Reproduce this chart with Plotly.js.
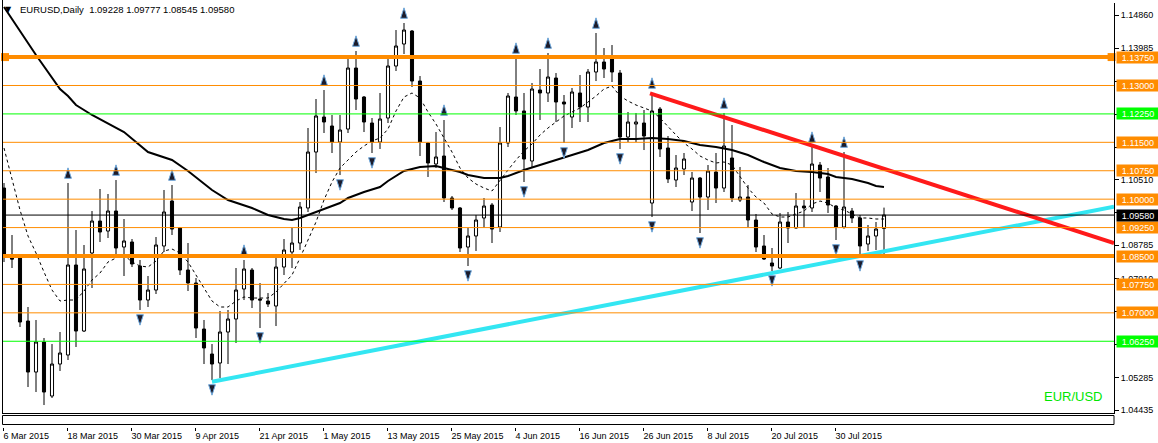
<!DOCTYPE html>
<html><head><meta charset="utf-8">
<script src="https://cdn.plot.ly/plotly-3.0.1.min.js"></script>
<style>html,body{margin:0;padding:0;background:#fff;}#chart{width:1158px;height:443px;}</style>
</head><body><div id="chart"></div>
<script>
// ---- date axis ----
const tickIdx = [0,8,16,24,32,40,48,56,64,72,80,88,96,104];
const tickLabels = ["6 Mar 2015","18 Mar 2015","30 Mar 2015","9 Apr 2015","21 Apr 2015","1 May 2015","13 May 2015","25 May 2015","4 Jun 2015","16 Jun 2015","26 Jun 2015","8 Jul 2015","20 Jul 2015","30 Jul 2015"];

// ---- daily OHLC (bar index 0 = 6 Mar 2015) ----
const openP = [
1.10294,1.08447,1.08447,1.06784,1.05438,1.06230,1.04805,1.05649,1.05887,1.08262,
1.06520,1.08579,1.09423,1.09159,1.09687,1.08737,1.08869,1.08236,1.07338,1.07602,
1.08764,1.09951,1.09239,1.08130,1.07787,1.06573,1.05913,1.05676,1.06494,1.06837,
1.07629,1.08130,1.07365,1.07312,1.07180,1.08209,1.08605,1.08843,1.09767,1.11244,
1.12168,1.11931,1.11508,1.11851,1.13461,1.12696,1.12010,1.11508,1.12142,1.13514,
1.14095,1.14438,1.13118,1.11482,1.10928,1.11139,1.10030,1.09767,1.08737,1.09028,
1.09503,1.09846,1.09265,1.11482,1.12696,1.12327,1.11007,1.12881,1.12802,1.13197,
1.12564,1.12168,1.12802,1.12432,1.13356,1.13620,1.13699,1.13329,1.11640,1.11983,
1.12010,1.09898,1.12379,1.11350,1.10505,1.10796,1.09925,1.10558,1.10057,1.10717,
1.10294,1.11086,1.09978,1.10057,1.09450,1.08764,1.08315,1.08183,1.09397,1.09239,
1.09819,1.09767,1.10901,1.10585,1.09819,1.09265,1.09687,1.09503,1.08816,1.09028,1.09228];
const highP = [
1.10426,1.09054,1.08526,1.07154,1.06811,1.06336,1.06177,1.06494,1.10426,1.09186,
1.08790,1.09687,1.10268,1.10136,1.10505,1.09476,1.08948,1.08394,1.07972,1.09001,
1.10242,1.10374,1.09265,1.08843,1.07919,1.06811,1.06177,1.07048,1.07075,1.08183,
1.08394,1.08183,1.07787,1.07523,1.08473,1.08948,1.09239,1.09925,1.11878,1.12643,
1.12881,1.12221,1.12221,1.13725,1.13910,1.12722,1.12142,1.12802,1.13804,1.14464,
1.14649,1.14464,1.13250,1.11508,1.11772,1.12089,1.10083,1.09793,1.09239,1.09582,
1.10030,1.09898,1.11904,1.12802,1.13725,1.12802,1.13065,1.13435,1.13857,1.13329,
1.12749,1.12934,1.13277,1.13435,1.14385,1.13989,1.14068,1.13409,1.12300,1.12274,
1.12353,1.12802,1.12432,1.11667,1.11165,1.11218,1.10717,1.10585,1.10901,1.11218,
1.12274,1.11957,1.10849,1.10374,1.09608,1.09054,1.08711,1.09635,1.09661,1.10162,
1.09978,1.11376,1.10981,1.10822,1.09846,1.11244,1.09767,1.09582,1.09318,1.09397,1.09777];
const lowP = [
1.08341,1.08183,1.06626,1.05042,1.04910,1.04567,1.04752,1.05465,1.05755,1.06098,
1.06494,1.07655,1.08869,1.08975,1.08447,1.07972,1.08209,1.07075,1.07154,1.07497,
1.08605,1.09054,1.07998,1.07576,1.06336,1.05649,1.05227,1.05280,1.05649,1.06204,
1.07338,1.07127,1.06599,1.07154,1.06652,1.07998,1.08183,1.08660,1.09661,1.10690,
1.11746,1.11218,1.10637,1.11746,1.12353,1.11772,1.11218,1.11324,1.12010,1.13382,
1.13831,1.12960,1.11139,1.10585,1.10822,1.09925,1.09714,1.08605,1.08236,1.08632,
1.09239,1.08843,1.09133,1.11376,1.12221,1.10453,1.10822,1.12089,1.12564,1.12036,
1.11482,1.11878,1.12036,1.12036,1.13118,1.13197,1.13092,1.11324,1.11508,1.11508,
1.11297,1.09529,1.11113,1.10426,1.10321,1.10637,1.09687,1.09107,1.09714,1.09898,
1.10189,1.09925,1.09925,1.09265,1.08605,1.08394,1.08104,1.08157,1.08843,1.09220,
1.09239,1.09661,1.10189,1.09635,1.08922,1.09220,1.09371,1.08500,1.08632,1.08658,1.08545];
const closeP = [
1.08473,1.08420,1.06758,1.05438,1.06230,1.04910,1.05649,1.05940,1.08262,1.06520,
1.08157,1.09423,1.09133,1.09687,1.08711,1.08896,1.08289,1.07338,1.07602,1.08790,
1.09661,1.09212,1.08130,1.07787,1.06599,1.06072,1.05649,1.06494,1.06837,1.07602,
1.08157,1.07338,1.07338,1.07233,1.08209,1.08658,1.08843,1.09793,1.11244,1.12195,
1.12036,1.11508,1.11825,1.13461,1.12643,1.12036,1.11508,1.12115,1.13514,1.14042,
1.14464,1.13118,1.11508,1.10954,1.11113,1.10030,1.09767,1.08711,1.09028,1.09450,
1.09819,1.09212,1.11482,1.12722,1.12327,1.11060,1.12907,1.12802,1.13224,1.12564,
1.12511,1.12828,1.12432,1.13356,1.13620,1.13435,1.13356,1.11640,1.12036,1.12036,
1.11667,1.12327,1.11324,1.10532,1.10822,1.11060,1.10558,1.10057,1.10743,1.10294,
1.11403,1.10030,1.10057,1.09450,1.08737,1.08420,1.08236,1.09397,1.09239,1.09819,
1.09767,1.10928,1.10558,1.09846,1.09265,1.09793,1.09503,1.08764,1.09028,1.09212,1.09580];

// ---- moving averages ----
const maSlowIdx = [0,4,7,8,9,11,15,16,18,21,23,26,28,31,33,35,36,37,38,40,42,43,45,47,48,50,52,54,55,57,58,60,62,63,65,67,69,71,73,75,77,79,81,83,85,87,89,91,93,95,97,99,101,103,104,106,108,109,110];
const maSlowVal = [1.15071,1.13804,1.12907,1.12722,1.12485,1.12221,1.11772,1.11588,1.11244,1.11033,1.10743,1.10242,1.09978,1.09767,1.09582,1.09476,1.09450,1.09503,1.09582,1.09740,1.09898,1.10030,1.10189,1.10321,1.10479,1.10743,1.10849,1.10875,1.10822,1.10717,1.10637,1.10558,1.10558,1.10611,1.10769,1.10901,1.11033,1.11165,1.11297,1.11482,1.11588,1.11588,1.11614,1.11588,1.11535,1.11429,1.11376,1.11297,1.11165,1.10981,1.10822,1.10743,1.10717,1.10664,1.10585,1.10532,1.10426,1.10347,1.10321];
const maFastVal = [
1.11350,1.10558,1.09714,1.09028,1.08579,1.08077,1.07602,1.07312,1.07338,1.07338,
1.07576,1.07866,1.08051,1.08341,1.08447,1.08526,1.08341,1.08236,1.08209,1.08368,
1.08632,1.08684,1.08579,1.08341,1.07998,1.07629,1.07312,1.07154,1.07154,1.07312,
1.07418,1.07391,1.07391,1.07391,1.07550,1.07761,1.07998,1.08447,1.08922,1.09397,
1.09978,1.10453,1.10822,1.11033,1.11244,1.11403,1.11535,1.11614,1.11851,1.12327,
1.12696,1.12802,1.12670,1.12300,1.11983,1.11614,1.11244,1.10822,1.10558,1.10400,
1.10294,1.10215,1.10505,1.10769,1.11033,1.11271,1.11456,1.11693,1.11878,1.12036,
1.12195,1.12300,1.12406,1.12564,1.12722,1.12907,1.12986,1.12722,1.12590,1.12485,
1.12406,1.12327,1.12142,1.11904,1.11693,1.11482,1.11324,1.11139,1.11033,1.10954,
1.10981,1.10901,1.10611,1.10294,1.10057,1.09898,1.09608,1.09529,1.09529,1.09608,
1.09687,1.09872,1.09951,1.09898,1.09767,1.09714,1.09608,1.09503,1.09503,1.09476,1.09476];

// ---- fractal bars ----
const fractalUp = [8,14,21,30,40,44,50,55,64,68,74,81,90,101,105];
const fractalDown = [5,17,26,32,42,46,58,65,70,77,81,87,96,104,107];

// ---- drawn objects ----
const supportX = [26, 138.75];
const supportY = [1.05182, 1.09801];
const resistX = [80.75, 138.75];
const resistY = [1.12794, 1.08843];
const levelsThin = [1.13000,1.11500,1.10750,1.10000,1.09250,1.07750,1.07000];
const levelsThick = [1.13750,1.08500];
const levelsGreen = [1.12250,1.06250];
const bidPrice = 1.09580;
const priceTicks = [1.04435,1.05285,1.06160,1.07035,1.07910,1.08785,1.09635,1.10510,1.11360,1.12235,1.13110,1.13985,1.14860];
// price-scale labels that sit fully under a level label box in the reference
const priceTicksHidden = [1.06160,1.07035,1.09635,1.11360,1.12235,1.13110];

const ORANGE = '#ff8c00', GREEN = '#00ff00';
const idx = openP.map((_, i) => i);
const last = openP.length - 1;
const FR_OFF = 0.0040;

const traces = [
  {type:'candlestick', x:idx, open:openP, high:highP, low:lowP, close:closeP,
   increasing:{line:{color:'#000', width:1}, fillcolor:'#fff'},
   decreasing:{line:{color:'#000', width:1}, fillcolor:'#000'},
   whiskerwidth:0, hoverinfo:'skip'},
  {type:'scatter', mode:'lines', x:maSlowIdx, y:maSlowVal, line:{color:'#000', width:2}, hoverinfo:'skip'},
  {type:'scatter', mode:'lines', x:idx, y:maFastVal, line:{color:'#000', width:1, dash:'3px,3px'}, hoverinfo:'skip'},
  {type:'scatter', mode:'lines', x:supportX, y:supportY, line:{color:'#33e6f2', width:4}, hoverinfo:'skip'},
  {type:'scatter', mode:'lines', x:resistX, y:resistY, line:{color:'#ff1a1a', width:4}, hoverinfo:'skip'},
  {type:'scatter', mode:'markers', x:fractalUp, y:fractalUp.map(k => highP[k] + FR_OFF), cliponaxis:false,
   marker:{symbol:'arrow', angle:0, size:11, color:'#1c1c2c', line:{color:'#6fa8dc', width:1}}, hoverinfo:'skip'},
  {type:'scatter', mode:'markers', x:fractalDown, y:fractalDown.map(k => lowP[k] - FR_OFF), cliponaxis:false,
   marker:{symbol:'arrow', angle:180, size:11, color:'#1c1c2c', line:{color:'#6fa8dc', width:1}}, hoverinfo:'skip'},
  {type:'scatter', mode:'markers', x:[0.125, 138.45], y:[levelsThick[0], levelsThick[0]], cliponaxis:false,
   marker:{symbol:'square', size:8, color:ORANGE}, hoverinfo:'skip'},
  {type:'scatter', mode:'markers', x:[0.125, 138.45], y:[levelsThick[0], levelsThick[0]], cliponaxis:false,
   marker:{symbol:'square', size:2, color:'#fff'}, hoverinfo:'skip'}
];

const hline = (v, color, w) => ({type:'line', xref:'paper', x0:0, x1:1, yref:'y', y0:v, y1:v, line:{color:color, width:w}});
const yBot = 13/424;
const pxY = px => (427 - px) / 424;   // paper y for a pixel row
const shapes = [];
levelsThin.forEach(v => shapes.push(hline(v, ORANGE, 1)));
levelsGreen.forEach(v => shapes.push(hline(v, GREEN, 1)));
shapes.push(hline(bidPrice, '#000', 1));
levelsThick.forEach(v => shapes.push(hline(v, ORANGE, 4)));
shapes.push({type:'line', xref:'paper', yref:'paper', x0:0.5/1112, x1:0.5/1112, y0:pxY(413.5), y1:1.01, line:{color:'#000', width:1}});
shapes.push({type:'line', xref:'paper', yref:'paper', x0:0, x1:1, y0:pxY(413.5), y1:pxY(413.5), line:{color:'#000', width:1}});
shapes.push({type:'rect', xref:'paper', yref:'paper', x0:0.5/1112, x1:1, y0:pxY(424.5), y1:pxY(415.5), line:{color:'#000', width:1}, fillcolor:'#fff'});

const lab = (v, bg) => ({xref:'paper', x:1, xanchor:'left', xshift:2, yref:'y', y:v, yanchor:'middle',
  text:v.toFixed(5), showarrow:false, bgcolor:bg, width:42, height:11, borderpad:0, align:'center',
  font:{color:'#fff', size:9, family:'Liberation Sans, Arial, sans-serif'}});
const annotations = [];
levelsThin.forEach(v => annotations.push(lab(v, ORANGE)));
levelsThick.forEach(v => annotations.push(lab(v, ORANGE)));
levelsGreen.forEach(v => annotations.push(lab(v, GREEN)));
annotations.push(lab(bidPrice, '#000'));
annotations.push({xref:'paper', yref:'paper', x:16/1112, y:pxY(10), xanchor:'left', yanchor:'middle', showarrow:false,
  text:'EURUSD,Daily\u00a0\u00a0' + [openP[last], highP[last], lowP[last], closeP[last]].map(v => v.toFixed(5)).join(' '),
  font:{size:9.5, color:'#000'}});
annotations.push({xref:'paper', yref:'paper', x:6.5/1112, y:pxY(10), xanchor:'center', yanchor:'middle', showarrow:false,
  text:'\u25BC', font:{size:8, color:'#000', family:'DejaVu Sans'}});
annotations.push({xref:'paper', yref:'paper', x:(1105-2)/1112, y:pxY(396), xanchor:'right', yanchor:'middle', showarrow:false,
  text:'EUR/USD', font:{size:13, color:'#00e600'}});

const layout = {
  width:1158, height:443, margin:{l:2, r:44, t:3, b:16},
  paper_bgcolor:'#fff', plot_bgcolor:'#fff', showlegend:false, boxgap:0.45,
  font:{family:'Liberation Sans, Arial, sans-serif', size:9, color:'#000'},
  xaxis:{type:'linear', range:[-0.25, 138.75], tickvals:tickIdx.map(v => v - 0.125), ticktext:tickLabels,
    ticks:'outside', ticklen:3, tickcolor:'#000', tickwidth:1, showgrid:false, zeroline:false, showline:false,
    anchor:'free', position:0, ticklabelposition:'outside right', rangeslider:{visible:false},
    tickfont:{size:9, color:'#000'}, automargin:false},
  yaxis:{domain:[yBot, 1], range:[1.04330, 1.15177], side:'right', tickvals:priceTicks,
    ticktext:priceTicks.map(v => priceTicksHidden.includes(v) ? '' : v.toFixed(5)), ticks:'outside', ticklen:4, tickcolor:'#000',
    showline:true, linecolor:'#000', linewidth:1, showgrid:false, zeroline:false,
    tickfont:{size:9, color:'#000'}, automargin:false},
  shapes:shapes, annotations:annotations
};

Plotly.newPlot('chart', traces, layout, {staticPlot:true, displayModeBar:false});
</script>
</body></html>
